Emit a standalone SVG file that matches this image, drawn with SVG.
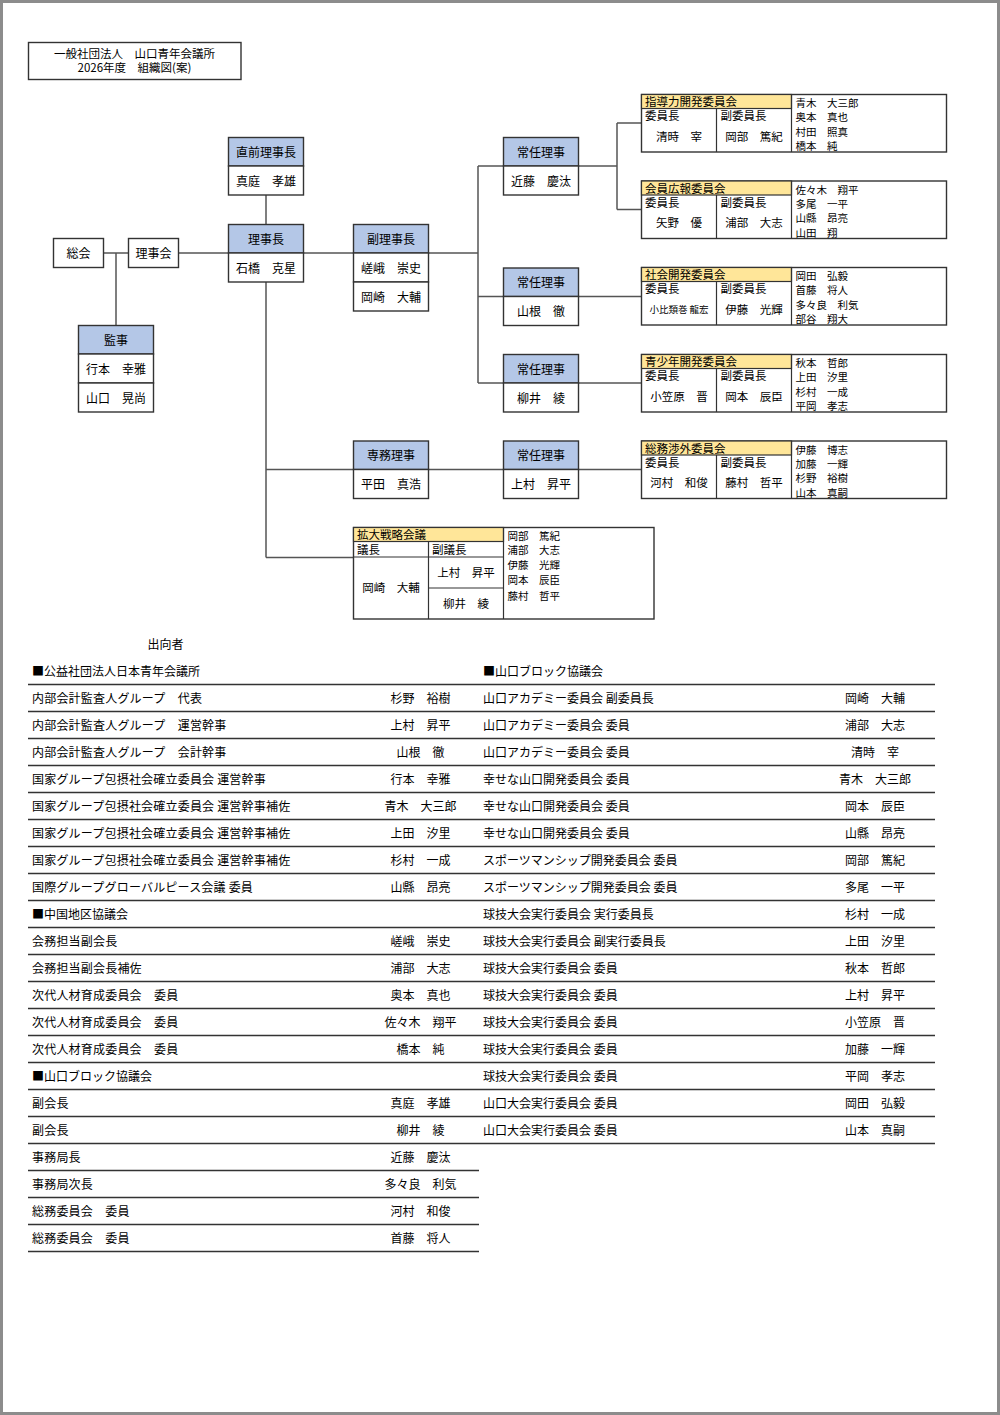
<svg xmlns="http://www.w3.org/2000/svg" width="1000" height="1415" viewBox="0 0 1000 1415">
<style>
text{font-family:"Noto Sans CJK JP","Noto Sans",sans-serif;fill:#000;dominant-baseline:central;font-size:12px;transform:translateY(-0.8px)}
.c{text-anchor:middle}
.s{font-size:11.5px}
.h{font-size:11.5px}
.m{font-size:10.5px}
.xs{font-size:9.5px}
.tb{letter-spacing:0.2px}
.box{fill:#fff;stroke:#333;stroke-width:1.4}
.hdr{fill:#b4c7e7;stroke:#333;stroke-width:1.4}
.yh{fill:#ffe699;stroke:#333;stroke-width:1.2}
.ln{stroke:#333;stroke-width:1.2;fill:none}
.tl{stroke:#333;stroke-width:1.3;fill:none}
#connectors path{stroke:#555;stroke-width:1.5;fill:none}
</style>
<rect x="1.5" y="1.5" width="997" height="1412" fill="#fff" stroke="#8c8c8c" stroke-width="3"/>

<g id="title">
<rect class="box" x="28.5" y="42.5" width="212.5" height="37"/>
<text class="c h" x="134.5" y="54.2">一般社団法人　山口青年会議所</text>
<text class="c h" x="134.5" y="68.2">2026年度　組織図(案)</text>
</g>

<g id="connectors">
<path d="M103.5 253H128.5M116 253V325.5M178.5 253H228.5M266 195V224.5M303.5 253H353.5M428.5 253H478"/>
<path d="M478 166V383M478 166H503.5M478 296.5H503.5M478 383H503.5"/>
<path d="M578.5 166H617M617 123V209.5M617 123H641.5M617 209.5H641.5"/>
<path d="M578.5 296.5H641.5M578.5 383H641.5"/>
<path d="M266 282V557.5M266 469.5H353.5M428.5 469.5H503.5M578.5 469.5H641.5M266 557.5H353.5"/>
</g>

<g id="sokai"><rect class="box" x="53.5" y="238.5" width="50" height="29"/><text class="c" x="78.5" y="253">総会</text></g>
<g id="rijikai"><rect class="box" x="128.5" y="238.5" width="50" height="29"/><text class="c" x="153.5" y="253">理事会</text></g>

<g id="chokuzen">
<rect class="hdr" x="228.5" y="137.5" width="75" height="28.5"/><rect class="box" x="228.5" y="166" width="75" height="29"/>
<text class="c" x="266" y="152">直前理事長</text><text class="c" x="266" y="181">真庭　孝雄</text>
</g>
<g id="rijicho">
<rect class="hdr" x="228.5" y="224.5" width="75" height="28.5"/><rect class="box" x="228.5" y="253" width="75" height="29"/>
<text class="c" x="266" y="239">理事長</text><text class="c" x="266" y="268">石橋　克星</text>
</g>
<g id="fukurijicho">
<rect class="hdr" x="353.5" y="224.5" width="75" height="28.5"/><rect class="box" x="353.5" y="253" width="75" height="29"/><rect class="box" x="353.5" y="282" width="75" height="29"/>
<text class="c" x="391" y="239">副理事長</text><text class="c" x="391" y="268">嵯峨　崇史</text><text class="c" x="391" y="297">岡崎　大輔</text>
</g>
<g id="kanji">
<rect class="hdr" x="78.5" y="325.5" width="75" height="28.5"/><rect class="box" x="78.5" y="354" width="75" height="29"/><rect class="box" x="78.5" y="383" width="75" height="29"/>
<text class="c" x="116" y="340">監事</text><text class="c" x="116" y="369">行本　幸雅</text><text class="c" x="116" y="398">山口　晃尚</text>
</g>
<g id="jonin1">
<rect class="hdr" x="503.5" y="137.5" width="75" height="28.5"/><rect class="box" x="503.5" y="166" width="75" height="29"/>
<text class="c" x="541" y="152">常任理事</text><text class="c" x="541" y="181">近藤　慶汰</text>
</g>
<g id="jonin2">
<rect class="hdr" x="503.5" y="268" width="75" height="28.5"/><rect class="box" x="503.5" y="296.5" width="75" height="29"/>
<text class="c" x="541" y="282.5">常任理事</text><text class="c" x="541" y="311">山根　徹</text>
</g>
<g id="jonin3">
<rect class="hdr" x="503.5" y="354.5" width="75" height="28.5"/><rect class="box" x="503.5" y="383" width="75" height="29"/>
<text class="c" x="541" y="369">常任理事</text><text class="c" x="541" y="398">柳井　綾</text>
</g>
<g id="senmu">
<rect class="hdr" x="353.5" y="441" width="75" height="28.5"/><rect class="box" x="353.5" y="469.5" width="75" height="29"/>
<text class="c" x="391" y="455.5">専務理事</text><text class="c" x="391" y="484">平田　真浩</text>
</g>
<g id="jonin4">
<rect class="hdr" x="503.5" y="441" width="75" height="28.5"/><rect class="box" x="503.5" y="469.5" width="75" height="29"/>
<text class="c" x="541" y="455.5">常任理事</text><text class="c" x="541" y="484">上村　昇平</text>
</g>

<g id="iin-shidoryoku" transform="translate(0,94.5)">
<rect class="box" x="641.5" y="0" width="305" height="57.5"/><rect class="yh" x="641.5" y="0" width="150" height="14"/>
<path class="ln" d="M716.5 14V57.5M791.5 0V57.5"/>
<text class="h" x="645" y="7.3">指導力開発委員会</text><text class="h" x="645" y="21.5">委員長</text><text class="h" x="720.5" y="21.5">副委員長</text>
<text class="c s" x="679" y="42">清時　宰</text><text class="c s" x="754" y="42">岡部　篤紀</text>
<text class="m" x="795.5" y="9">青木　大三郎</text><text class="m" x="795.5" y="23">奥本　真也</text><text class="m" x="795.5" y="37.5">村田　照真</text><text class="m" x="795.5" y="52">橋本　純</text>
</g>
<g id="iin-kaiin" transform="translate(0,181)">
<rect class="box" x="641.5" y="0" width="305" height="57.5"/><rect class="yh" x="641.5" y="0" width="150" height="14"/>
<path class="ln" d="M716.5 14V57.5M791.5 0V57.5"/>
<text class="h" x="645" y="7.3">会員広報委員会</text><text class="h" x="645" y="21.5">委員長</text><text class="h" x="720.5" y="21.5">副委員長</text>
<text class="c s" x="679" y="42">矢野　優</text><text class="c s" x="754" y="42">浦部　大志</text>
<text class="m" x="795.5" y="9">佐々木　翔平</text><text class="m" x="795.5" y="23">多尾　一平</text><text class="m" x="795.5" y="37.5">山縣　昂亮</text><text class="m" x="795.5" y="52">山田　翔</text>
</g>
<g id="iin-shakai" transform="translate(0,267.5)">
<rect class="box" x="641.5" y="0" width="305" height="57.5"/><rect class="yh" x="641.5" y="0" width="150" height="14"/>
<path class="ln" d="M716.5 14V57.5M791.5 0V57.5"/>
<text class="h" x="645" y="7.3">社会開発委員会</text><text class="h" x="645" y="21.5">委員長</text><text class="h" x="720.5" y="21.5">副委員長</text>
<text class="c xs" x="679" y="42">小比類巻 龍宏</text><text class="c s" x="754" y="42">伊藤　光輝</text>
<text class="m" x="795.5" y="9">岡田　弘毅</text><text class="m" x="795.5" y="23">首藤　将人</text><text class="m" x="795.5" y="37.5">多々良　利気</text><text class="m" x="795.5" y="52">部谷　翔大</text>
</g>
<g id="iin-seishonen" transform="translate(0,354.5)">
<rect class="box" x="641.5" y="0" width="305" height="57.5"/><rect class="yh" x="641.5" y="0" width="150" height="14"/>
<path class="ln" d="M716.5 14V57.5M791.5 0V57.5"/>
<text class="h" x="645" y="7.3">青少年開発委員会</text><text class="h" x="645" y="21.5">委員長</text><text class="h" x="720.5" y="21.5">副委員長</text>
<text class="c s" x="679" y="42">小笠原　晋</text><text class="c s" x="754" y="42">岡本　辰臣</text>
<text class="m" x="795.5" y="9">秋本　哲郎</text><text class="m" x="795.5" y="23">上田　汐里</text><text class="m" x="795.5" y="37.5">杉村　一成</text><text class="m" x="795.5" y="52">平岡　孝志</text>
</g>
<g id="iin-somu" transform="translate(0,441)">
<rect class="box" x="641.5" y="0" width="305" height="57.5"/><rect class="yh" x="641.5" y="0" width="150" height="14"/>
<path class="ln" d="M716.5 14V57.5M791.5 0V57.5"/>
<text class="h" x="645" y="7.3">総務渉外委員会</text><text class="h" x="645" y="21.5">委員長</text><text class="h" x="720.5" y="21.5">副委員長</text>
<text class="c s" x="679" y="42">河村　和俊</text><text class="c s" x="754" y="42">藤村　哲平</text>
<text class="m" x="795.5" y="9">伊藤　博志</text><text class="m" x="795.5" y="23">加藤　一輝</text><text class="m" x="795.5" y="37.5">杉野　裕樹</text><text class="m" x="795.5" y="52">山本　真嗣</text>
</g>

<g id="kakudai">
<rect class="box" x="353.5" y="527.5" width="300.5" height="91.5"/><rect class="yh" x="353.5" y="527.5" width="150" height="14"/>
<path class="ln" d="M353.5 557H503.5M428.5 541.5V619M503.5 527.5V619M428.5 588H503.5"/>
<text class="h" x="357" y="534.8">拡大戦略会議</text><text class="h" x="357" y="549.5">議長</text><text class="h" x="432" y="549.5">副議長</text>
<text class="c s" x="391" y="588">岡崎　大輔</text><text class="c s" x="466" y="573">上村　昇平</text><text class="c s" x="466" y="604">柳井　綾</text>
<text class="m" x="507.5" y="536">岡部　篤紀</text><text class="m" x="507.5" y="550.5">浦部　大志</text><text class="m" x="507.5" y="565">伊藤　光輝</text><text class="m" x="507.5" y="580.5">岡本　辰臣</text><text class="m" x="507.5" y="596">藤村　哲平</text>
</g>

<g id="shukkosha-label"><text class="c" x="165.5" y="644.5">出向者</text></g>

<g id="table-left">
<path class="tl" d="M28 684.5H479M28 711.5H479M28 738.5H479M28 765.5H479M28 792.5H479M28 819.5H479M28 846.5H479M28 873.5H479M28 900.5H479M28 927.5H479M28 954.5H479M28 981.5H479M28 1008.5H479M28 1035.5H479M28 1062.5H479M28 1089.5H479M28 1116.5H479M28 1143.5H479M28 1170.5H479M28 1197.5H479M28 1224.5H479M28 1251.5H479"/>
<text x="32" y="671.5">■公益社団法人日本青年会議所</text>
<text class="tb" x="32" y="698.5">内部会計監査人グループ　代表</text><text class="c" x="420.5" y="698.5">杉野　裕樹</text>
<text class="tb" x="32" y="725.5">内部会計監査人グループ　運営幹事</text><text class="c" x="420.5" y="725.5">上村　昇平</text>
<text class="tb" x="32" y="752.5">内部会計監査人グループ　会計幹事</text><text class="c" x="420.5" y="752.5">山根　徹</text>
<text class="tb" x="32" y="779.5">国家グループ包摂社会確立委員会 運営幹事</text><text class="c" x="420.5" y="779.5">行本　幸雅</text>
<text class="tb" x="32" y="806.5">国家グループ包摂社会確立委員会 運営幹事補佐</text><text class="c" x="420.5" y="806.5">青木　大三郎</text>
<text class="tb" x="32" y="833.5">国家グループ包摂社会確立委員会 運営幹事補佐</text><text class="c" x="420.5" y="833.5">上田　汐里</text>
<text class="tb" x="32" y="860.5">国家グループ包摂社会確立委員会 運営幹事補佐</text><text class="c" x="420.5" y="860.5">杉村　一成</text>
<text class="tb" x="32" y="887.5">国際グループグローバルピース会議 委員</text><text class="c" x="420.5" y="887.5">山縣　昂亮</text>
<text x="32" y="914.5">■中国地区協議会</text>
<text class="tb" x="32" y="941.5">会務担当副会長</text><text class="c" x="420.5" y="941.5">嵯峨　崇史</text>
<text class="tb" x="32" y="968.5">会務担当副会長補佐</text><text class="c" x="420.5" y="968.5">浦部　大志</text>
<text class="tb" x="32" y="995.5">次代人材育成委員会　委員</text><text class="c" x="420.5" y="995.5">奥本　真也</text>
<text class="tb" x="32" y="1022.5">次代人材育成委員会　委員</text><text class="c" x="420.5" y="1022.5">佐々木　翔平</text>
<text class="tb" x="32" y="1049.5">次代人材育成委員会　委員</text><text class="c" x="420.5" y="1049.5">橋本　純</text>
<text x="32" y="1076.5">■山口ブロック協議会</text>
<text class="tb" x="32" y="1103.5">副会長</text><text class="c" x="420.5" y="1103.5">真庭　孝雄</text>
<text class="tb" x="32" y="1130.5">副会長</text><text class="c" x="420.5" y="1130.5">柳井　綾</text>
<text class="tb" x="32" y="1157.5">事務局長</text><text class="c" x="420.5" y="1157.5">近藤　慶汰</text>
<text class="tb" x="32" y="1184.5">事務局次長</text><text class="c" x="420.5" y="1184.5">多々良　利気</text>
<text class="tb" x="32" y="1211.5">総務委員会　委員</text><text class="c" x="420.5" y="1211.5">河村　和俊</text>
<text class="tb" x="32" y="1238.5">総務委員会　委員</text><text class="c" x="420.5" y="1238.5">首藤　将人</text>
</g>

<g id="table-right">
<path class="tl" d="M479 684.5H935M479 711.5H935M479 738.5H935M479 765.5H935M479 792.5H935M479 819.5H935M479 846.5H935M479 873.5H935M479 900.5H935M479 927.5H935M479 954.5H935M479 981.5H935M479 1008.5H935M479 1035.5H935M479 1062.5H935M479 1089.5H935M479 1116.5H935M479 1143.5H935"/>
<text x="483" y="671.5">■山口ブロック協議会</text>
<text x="483" y="698.5">山口アカデミー委員会 副委員長</text><text class="c" x="875" y="698.5">岡崎　大輔</text>
<text x="483" y="725.5">山口アカデミー委員会 委員</text><text class="c" x="875" y="725.5">浦部　大志</text>
<text x="483" y="752.5">山口アカデミー委員会 委員</text><text class="c" x="875" y="752.5">清時　宰</text>
<text x="483" y="779.5">幸せな山口開発委員会 委員</text><text class="c" x="875" y="779.5">青木　大三郎</text>
<text x="483" y="806.5">幸せな山口開発委員会 委員</text><text class="c" x="875" y="806.5">岡本　辰臣</text>
<text x="483" y="833.5">幸せな山口開発委員会 委員</text><text class="c" x="875" y="833.5">山縣　昂亮</text>
<text x="483" y="860.5">スポーツマンシップ開発委員会 委員</text><text class="c" x="875" y="860.5">岡部　篤紀</text>
<text x="483" y="887.5">スポーツマンシップ開発委員会 委員</text><text class="c" x="875" y="887.5">多尾　一平</text>
<text x="483" y="914.5">球技大会実行委員会 実行委員長</text><text class="c" x="875" y="914.5">杉村　一成</text>
<text x="483" y="941.5">球技大会実行委員会 副実行委員長</text><text class="c" x="875" y="941.5">上田　汐里</text>
<text x="483" y="968.5">球技大会実行委員会 委員</text><text class="c" x="875" y="968.5">秋本　哲郎</text>
<text x="483" y="995.5">球技大会実行委員会 委員</text><text class="c" x="875" y="995.5">上村　昇平</text>
<text x="483" y="1022.5">球技大会実行委員会 委員</text><text class="c" x="875" y="1022.5">小笠原　晋</text>
<text x="483" y="1049.5">球技大会実行委員会 委員</text><text class="c" x="875" y="1049.5">加藤　一輝</text>
<text x="483" y="1076.5">球技大会実行委員会 委員</text><text class="c" x="875" y="1076.5">平岡　孝志</text>
<text x="483" y="1103.5">山口大会実行委員会 委員</text><text class="c" x="875" y="1103.5">岡田　弘毅</text>
<text x="483" y="1130.5">山口大会実行委員会 委員</text><text class="c" x="875" y="1130.5">山本　真嗣</text>
</g>
</svg>
